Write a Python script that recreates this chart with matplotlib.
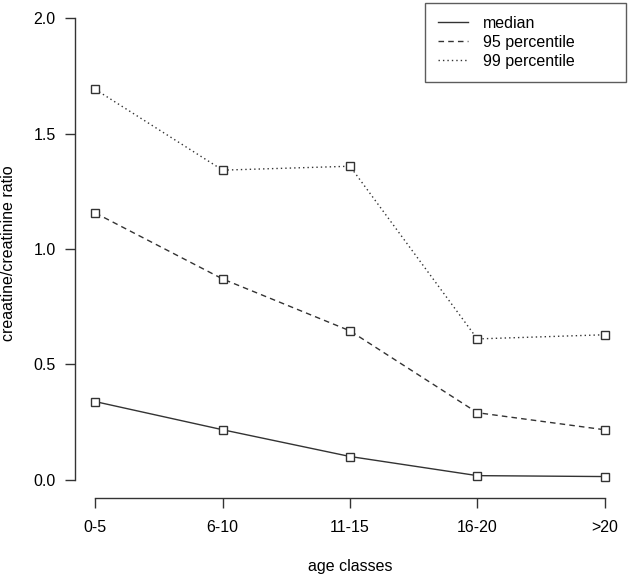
import numpy as np
import matplotlib
matplotlib.use("Agg")
import matplotlib.pyplot as plt
from matplotlib.lines import Line2D

plt.rcParams['font.family'] = ['Liberation Sans', 'DejaVu Sans']

# data
age_classes = ["0-5", "6-10", "11-15", "16-20", ">20"]
median = [0.338, 0.216, 0.100, 0.017, 0.013]
p95 = [1.156, 0.870, 0.645, 0.290, 0.216]
p99 = [1.692, 1.342, 1.359, 0.610, 0.628]
y_ticks = [0.0, 0.5, 1.0, 1.5, 2.0]
series_names = ['median', '95 percentile', '99 percentile']

x = np.arange(1, len(age_classes) + 1)
col = '#333333'
fs = 11.5
styles = ['-', (0, (4, 3)), (0, (1, 2.2))]

fig = plt.figure(figsize=(6.3, 5.76), dpi=100)
ax = fig.add_axes([75 / 630, 78 / 576, 550 / 630, 498 / 576])

for vals, ls, name in zip([median, p95, p99], styles, series_names):
    ax.plot(x, vals, color=col, lw=1.0, ls=ls, marker='s', ms=5.2,
            mfc='white', mec=col, mew=1.0, label=name)

ax.set_xlim(0.84, 5.16)
ax.set_ylim(-0.08, 2.08)
ax.set_xticks(x)
ax.set_xticklabels(age_classes)
ax.set_yticks(y_ticks)
ax.set_yticklabels(["%.1f" % v for v in y_ticks])
ax.tick_params(labelsize=fs, length=7, width=1.0, color=col)
ax.tick_params(axis='x', pad=9)
ax.tick_params(axis='y', pad=7)

for s in ['top', 'right']:
    ax.spines[s].set_visible(False)
ax.spines['left'].set_bounds(0, 2)
ax.spines['bottom'].set_bounds(1, 5)
for s in ['left', 'bottom']:
    ax.spines[s].set_color(col)
    ax.spines[s].set_linewidth(1.0)

ax.set_xlabel("age classes", fontsize=fs, va='center')
ax.xaxis.set_label_coords(0.5, -0.137)
ax.set_ylabel("creaatine/creatinine ratio", fontsize=fs, va='center', ha='center')
ax.yaxis.set_label_coords(-0.12, 0.492)

# legend without markers, plain wide box
handles = [Line2D([], [], color=col, lw=1.0, ls=ls) for ls in styles]
leg = ax.legend(handles, series_names,
                loc='upper left', bbox_to_anchor=(0.636, 0.994, 0.365, 0.0),
                mode='expand', fontsize=fs, frameon=True, fancybox=False,
                handlelength=1.9, handletextpad=0.95, labelspacing=0.25,
                borderpad=0.8, borderaxespad=0.0)
leg.get_frame().set_edgecolor(col)
leg.get_frame().set_linewidth(1.0)

fig.savefig("out.png", dpi=100)
